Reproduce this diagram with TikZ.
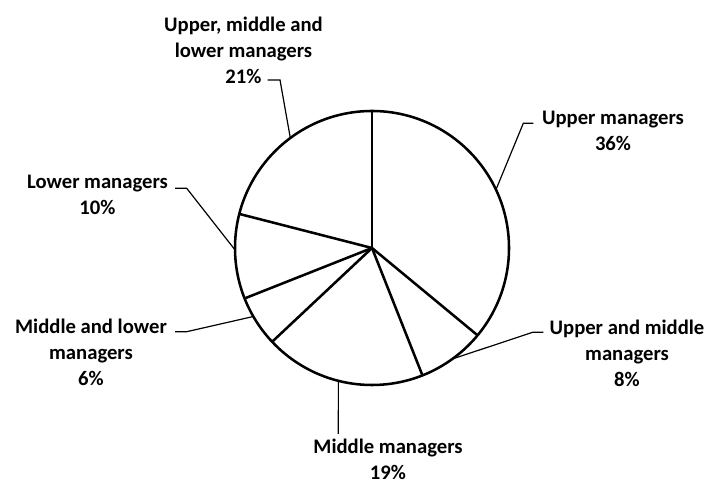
\documentclass[tikz,border=0pt]{standalone}
\usepackage{fontspec}
\setmainfont{Carlito}
\usetikzlibrary{calc}

\begin{document}
\begin{tikzpicture}[
        x=0.75pt, y=0.75pt,
        slice/.style={
            line width=1.9pt,
            line join=round
        },
        leader/.style={
            line width=0.9pt
        },
        pielabel/.style={
            align=center,
            inner sep=0pt,
            font=\fontsize{15.5}{19.5}\selectfont\bfseries
        }
    ]

    \useasboundingbox (0,0) rectangle (709,484);

    \coordinate (center) at (372,236);

    % pie and slice borders
    \draw[slice] (center) circle [radius=137];
    \foreach \ang in {90,-39.6,-68.4,-136.8,-158.4,165.6}
        \draw[slice] (center) -- ($(center)+(\ang:137)$);

    % labels
    \node[pielabel] (upper) at (613,353.5) {Upper managers\\36\%};
    \node[pielabel] (uppermid) at (627,131) {Upper and middle\\managers\\8\%};
    \node[pielabel] (middle) at (388,24.5) {Middle managers\\19\%};
    \node[pielabel] (midlow) at (91,132) {Middle and lower\\managers\\6\%};
    \node[pielabel] (lower) at (97.5,289) {Lower managers\\10\%};
    \node[pielabel] (all) at (243.5,434) {Upper, middle and\\lower managers\\21\%};

    % leader lines
    \coordinate (upper-tip) at ($(center)+(25.2:137)$);
    \coordinate (uppermid-tip) at ($(center)+(-54.1:137)$);
    \coordinate (middle-tip) at ($(center)+(-104.2:137)$);
    \coordinate (midlow-tip) at ($(center)+(-150:137)$);
    \coordinate (lower-tip) at ($(center)+(180.8:137)$);
    \coordinate (all-tip) at ($(center)+(126.6:137)$);

    \coordinate (upper-end) at (533.3,360.7);
    \coordinate (uppermid-end) at (543.3,151.7);
    \coordinate (middle-end) at (338.3,50);
    \coordinate (midlow-end) at (175,152.3);
    \coordinate (lower-end) at (175,295.7);
    \coordinate (all-end) at (267.7,404);

    \draw[leader] (upper-tip) -- (523.3,360.7) -- (upper-end);
    \draw[leader] (uppermid-tip) -- (532.7,151.7) -- (uppermid-end);
    \draw[leader] (middle-tip) -- (middle-end);
    \draw[leader] (midlow-tip) -- (186.7,152.3) -- (midlow-end);
    \draw[leader] (lower-tip) -- (186.7,295.7) -- (lower-end);
    \draw[leader] (all-tip) -- (280,404) -- (all-end);

\end{tikzpicture}
\end{document}
